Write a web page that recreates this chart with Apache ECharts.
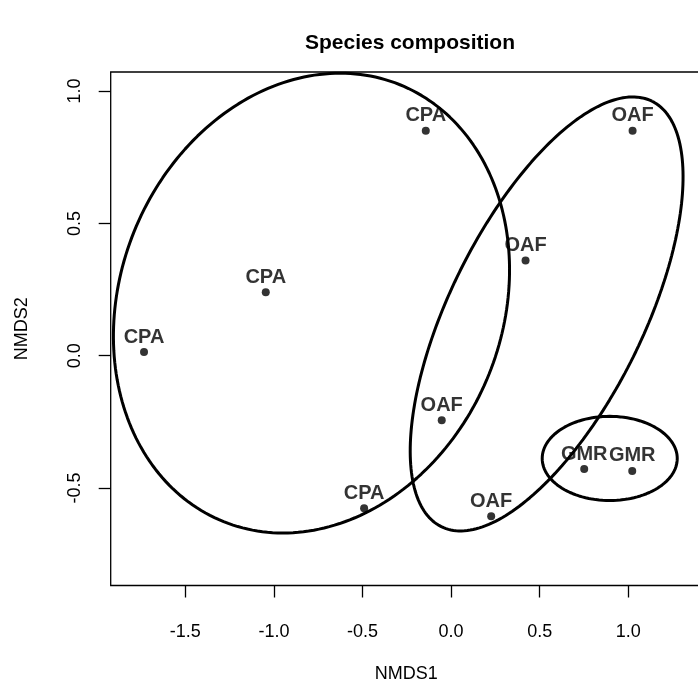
<!DOCTYPE html>
<html>
<head>
<meta charset="utf-8">
<style>
  html, body { margin: 0; padding: 0; background: #fff; }
  #chart { width: 698px; height: 694px; }
</style>
<script src="https://cdn.jsdelivr.net/npm/echarts@6/dist/echarts.min.js"></script>
</head>
<body>
<div id="chart"></div>
<script>
// Site scores on the two NMDS axes
const siteGroups = ['CPA', 'CPA', 'CPA', 'CPA', 'OAF', 'OAF', 'OAF', 'OAF', 'GMR', 'GMR'];
const nmds1 = [-1.733, -1.046, -0.143, -0.491, 1.024, 0.420, -0.053, 0.226, 0.751, 1.022];
const nmds2 = [0.014, 0.240, 0.850, -0.576, 0.850, 0.360, -0.244, -0.606, -0.428, -0.435];

// Group ellipses: centre and two conjugate semi-axis vectors (NMDS units)
const ellipseGroups = ['CPA', 'OAF', 'GMR'];
const ellipseCentre1 = [-0.788, 0.539, 0.895];
const ellipseCentre2 = [0.199, 0.158, -0.388];
const ellipseAxisU = [[0.4958, 0.8258], [0.5946, 0.8036], [0.381, 0]];
const ellipseAxisV = [[1.0017, -0.269], [0.489, -0.162], [0, 0.159]];

// Axis ranges and tick marks
const xRange = [-1.921, 1.414];
const yRange = [-0.868, 1.072];
const xTicks = [-1.5, -1.0, -0.5, 0.0, 0.5, 1.0];
const yTicks = [-0.5, 0.0, 0.5, 1.0];

const FONT = 'Liberation Sans, Arial, Helvetica, sans-serif';

function ellipseOutline(i) {
  const pts = [];
  const n = 240;
  for (let k = 0; k <= n; k++) {
    const t = 2 * Math.PI * k / n;
    const c = Math.cos(t), s = Math.sin(t);
    pts.push([
      ellipseCentre1[i] + ellipseAxisU[i][0] * c + ellipseAxisV[i][0] * s,
      ellipseCentre2[i] + ellipseAxisU[i][1] * c + ellipseAxisV[i][1] * s
    ]);
  }
  return pts;
}

const chart = echarts.init(document.getElementById('chart'), null, { renderer: 'canvas' });

const ellipseSeries = ellipseGroups.map((g, i) => ({
  name: g + ' ellipse',
  type: 'line',
  data: ellipseOutline(i),
  showSymbol: false,
  symbol: 'none',
  smooth: false,
  clip: true,
  silent: true,
  lineStyle: { color: '#000', width: 3 },
  z: 2
}));

const pointSeries = {
  name: 'sites',
  type: 'scatter',
  data: nmds1.map((x, i) => ({ value: [x, nmds2[i]], name: siteGroups[i] })),
  symbol: 'circle',
  symbolSize: 8,
  itemStyle: { color: '#000' },
  label: {
    show: true,
    position: 'top',
    distance: 1,
    formatter: p => p.name,
    color: '#000',
    fontFamily: FONT,
    fontWeight: 'bold',
    fontSize: 20
  },
  z: 3
};

chart.setOption({
  animation: false,
  backgroundColor: '#fff',
  title: {
    text: 'Species composition',
    left: 405,
    top: 28,
    textAlign: 'center',
    textStyle: { fontFamily: FONT, fontWeight: 'bold', fontSize: 21, color: '#000' }
  },
  grid: {
    left: 110.7,
    top: 72,
    width: 591,
    height: 513.5,
    outerBoundsMode: 'none',
    show: true,
    borderColor: '#000',
    borderWidth: 1.3,
    backgroundColor: 'transparent'
  },
  xAxis: {
    type: 'value',
    min: xRange[0],
    max: xRange[1],
    name: 'NMDS1',
    nameLocation: 'middle',
    nameGap: 80,
    nameTextStyle: { fontFamily: FONT, fontSize: 18, color: '#000' },
    axisLine: { show: false, onZero: false },
    splitLine: { show: false },
    axisTick: {
      show: true,
      length: 12,
      customValues: xTicks,
      lineStyle: { color: '#000', width: 1.3 }
    },
    axisLabel: {
      customValues: xTicks,
      margin: 38,
      formatter: v => v.toFixed(1),
      fontFamily: FONT,
      fontSize: 18,
      color: '#000'
    }
  },
  yAxis: {
    type: 'value',
    min: yRange[0],
    max: yRange[1],
    name: 'NMDS2',
    nameLocation: 'middle',
    nameGap: 80,
    nameTextStyle: { fontFamily: FONT, fontSize: 18, color: '#000' },
    axisLine: { show: false, onZero: false },
    splitLine: { show: false },
    axisTick: {
      show: true,
      length: 12,
      customValues: yTicks,
      lineStyle: { color: '#000', width: 1.3 }
    },
    axisLabel: {
      customValues: yTicks,
      rotate: 90,
      margin: 27,
      formatter: v => v.toFixed(1),
      fontFamily: FONT,
      fontSize: 18,
      color: '#000'
    }
  },
  series: [...ellipseSeries, pointSeries]
});
</script>
</body>
</html>
